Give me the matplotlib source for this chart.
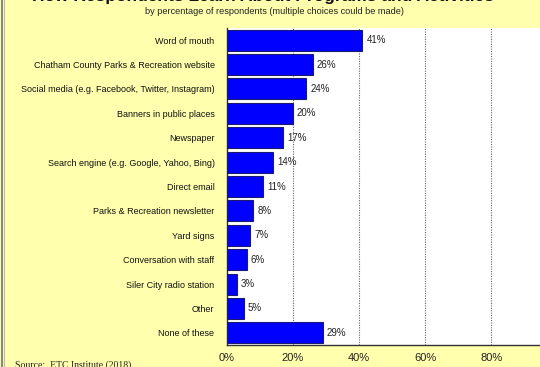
import matplotlib
matplotlib.use("Agg")
import matplotlib.pyplot as plt
from matplotlib.lines import Line2D

categories = [
    "Word of mouth",
    "Chatham County Parks & Recreation website",
    "Social media (e.g. Facebook, Twitter, Instagram)",
    "Banners in public places",
    "Newspaper",
    "Search engine (e.g. Google, Yahoo, Bing)",
    "Direct email",
    "Parks & Recreation newsletter",
    "Yard signs",
    "Conversation with staff",
    "Siler City radio station",
    "Other",
    "None of these",
]
values = [41, 26, 24, 20, 17, 14, 11, 8, 7, 6, 3, 5, 29]
tick_values = [0, 20, 40, 60, 80]
tick_labels = ["0%", "20%", "40%", "60%", "80%"]

title = "How Respondents Learn About Programs and Activities"
subtitle = "by percentage of respondents (multiple choices could be made)"
source = "Source:  ETC Institute (2018)"

bg = "#FFFFAD"
plt.rcParams["font.family"] = ["Liberation Sans", "DejaVu Sans"]

W, H = 540, 367
fig = plt.figure(figsize=(W / 100, H / 100), dpi=100, facecolor=bg)

left, right, top, bottom = 227, 540, 28, 345
ax = fig.add_axes([left / W, 1 - bottom / H, (right - left) / W, (bottom - top) / H])
ax.set_facecolor("white")

y = list(range(len(categories)))
ax.barh(y, values, height=0.86, color="#0000FF", edgecolor="#1A1A6E", linewidth=0.8, zorder=3)
for yi, v in zip(y, values):
    ax.text(v + 1.2, yi, f"{v}%", va="center", ha="left", fontsize=7, color="#222222", zorder=4)

ax.set_ylim(len(categories) - 0.5, -0.5)
ax.set_xlim(0, 94.8)
ax.set_yticks(y)
ax.set_yticklabels(categories, fontsize=6.5, color="#111111")
ax.set_xticks(tick_values)
ax.set_xticklabels(tick_labels, fontsize=8, color="#222222")
ax.tick_params(axis="y", length=0, pad=9)
ax.tick_params(axis="x", length=0, pad=6)

for t in tick_values[1:]:
    ax.axvline(t, color="#666666", linestyle=(0, (1, 1.2)), linewidth=0.8, zorder=1)

for s in ["top", "right"]:
    ax.spines[s].set_visible(False)
ax.spines["left"].set_color("#333333")
ax.spines["bottom"].set_color("#333333")
ax.spines["left"].set_linewidth(1.0)
ax.spines["bottom"].set_linewidth(1.0)

# Title sits mostly above the top edge of the canvas
fig.text(263 / W, 1 - 0.6 / H, title, ha="center", va="baseline",
         fontsize=12.5, fontweight="bold", color="#111111")
fig.text(274 / W, 1 - 11 / H, subtitle, ha="center", va="center",
         fontsize=6.6, color="#222222")
fig.text(15 / W, 1 - 368 / H, source, ha="left", va="baseline",
         fontsize=7, family=["Liberation Serif", "DejaVu Serif"], color="#222222")

fig.add_artist(Line2D([1.5 / W, 1.5 / W], [0, 1], transform=fig.transFigure,
                      color="#888888", linewidth=1.5))
fig.add_artist(Line2D([3.5 / W, 3.5 / W], [0, 1], transform=fig.transFigure,
                      color="#BBBBBB", linewidth=0.8))

fig.savefig("out.png", dpi=100, facecolor=bg)
